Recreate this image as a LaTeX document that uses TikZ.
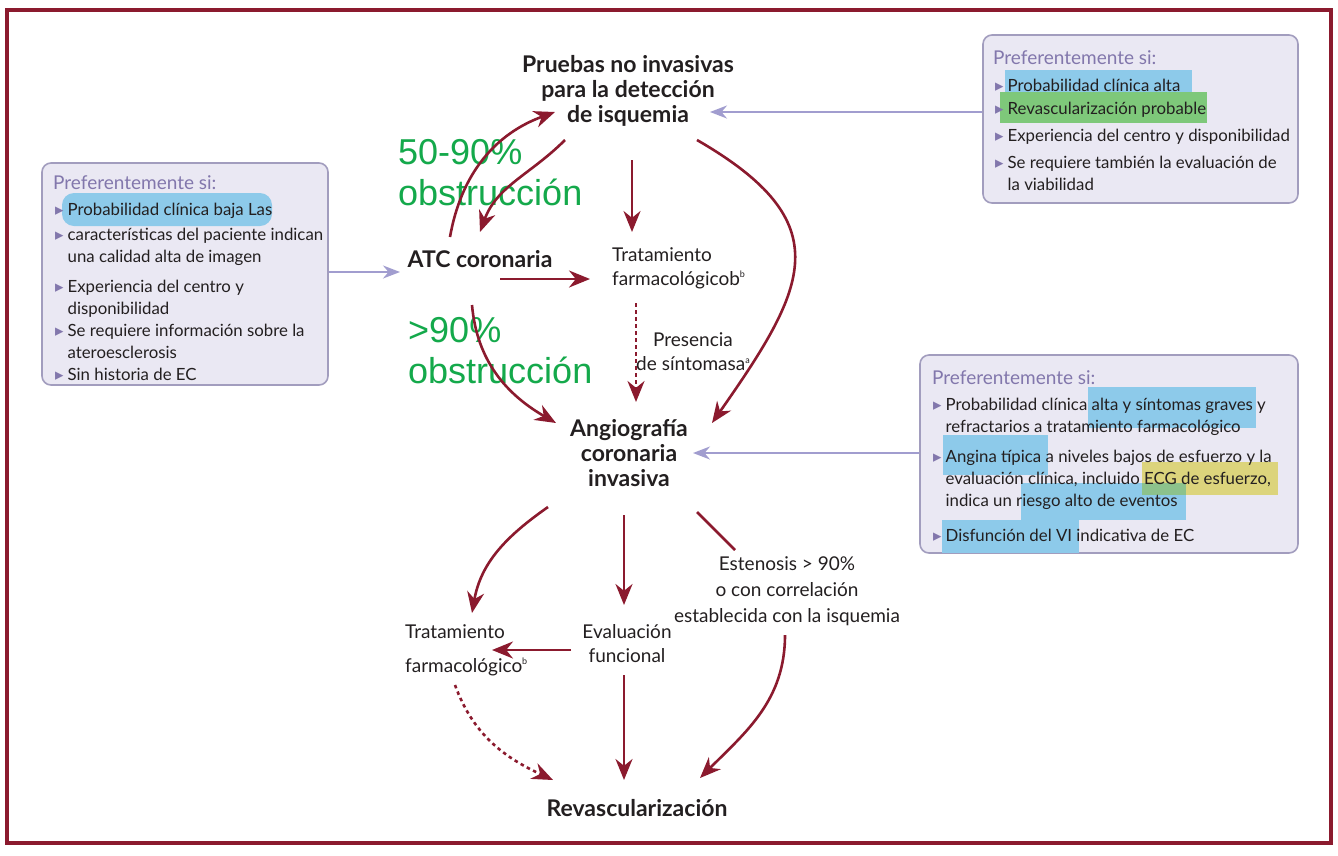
\documentclass[tikz,border=0pt]{standalone}
\usepackage{fontspec}
\setmainfont{Lato}
\newfontfamily\symfont{DejaVu Sans}
\newfontfamily\notefont{Liberation Sans}
\usepackage{xcolor}
\usetikzlibrary{arrows.meta}
\definecolor{wine}{HTML}{8B1A2E}
\definecolor{ink}{HTML}{231F20}
\definecolor{lilac}{HTML}{8277AC}
\definecolor{lilacarrow}{HTML}{A19DCF}
\definecolor{boxfill}{HTML}{EAE8F3}
\definecolor{boxline}{HTML}{A29DBE}
\definecolor{hlblue}{HTML}{8DCAEA}
\definecolor{hlgreen}{HTML}{7EC87A}
\definecolor{hlyellow}{HTML}{DCD47C}
\definecolor{hlmix}{HTML}{8CC28C}
\definecolor{notegreen}{HTML}{14A94B}
\newcommand{\bul}{{\color{lilac}\symfont ▸}\hspace{4pt}}
\newcommand{\supmark}[1]{\raisebox{.8ex}{\fontsize{9}{9}\selectfont #1}}
\tikzset{
  >={Stealth[length=21pt,width=17pt]},
  flow/.style={->,line width=2.6pt,draw=wine},
  flow dashed/.style={flow,dash pattern=on 3.5pt off 3.5pt},
  hint/.style={-{Stealth[length=17pt,width=13pt]},line width=2pt,draw=lilacarrow},
  note box/.style={rectangle,rounded corners=9pt,fill=boxfill,draw=boxline,line width=1.6pt},
  box title/.style={font=\fontsize{19}{22}\selectfont,text=lilac,anchor=west,inner sep=0pt},
  box item/.style={font=\fontsize{16.8}{22}\selectfont,text=ink,align=left,anchor=west,inner sep=0pt},
  main bold/.style={font=\bfseries\fontsize{23}{25}\selectfont,text=ink,align=center,inner sep=2pt},
  main label/.style={font=\fontsize{19}{24}\selectfont,text=ink,align=center,inner sep=2pt},
  green note/.style={font=\notefont\fontsize{36}{41}\selectfont,text=notegreen,align=left,anchor=west,inner sep=0pt}
}

\begin{document}
\begin{tikzpicture}[x=1pt,y=-1pt]
  \useasboundingbox (0,0) rectangle (1338,855);
  \fill[white] (0,0) rectangle (1338,855);
  \draw[wine,line width=3.5pt] (7,10) rectangle (1331,843);

  % side boxes
  \node[note box,minimum width=286pt,minimum height=222pt] (boxL) at (185,274) {};
  \node[note box,minimum width=315pt,minimum height=168pt] (boxT) at (1140.5,119) {};
  \node[note box,minimum width=378pt,minimum height=198pt] (boxR) at (1109,454) {};

  % highlights
  \fill[hlblue,rounded corners=12pt] (62,193) rectangle (272,226);
  \fill[hlblue] (1005,70) rectangle (1192,95);
  \fill[hlgreen] (1000,92) rectangle (1207,123);
  \fill[hlblue] (1088,387) rectangle (1256,428);
  \fill[hlblue] (943,435) rectangle (1048,475);
  \fill[hlyellow] (1142,462) rectangle (1278,495);
  \fill[hlblue] (1021,483) rectangle (1186,520);
  \fill[hlmix] (1142,483) rectangle (1186,495);
  \fill[hlblue] (942,520) rectangle (1079,553);

  % left box
  \node[box title] (ltitle) at (53,183) {Preferentemente si:};
  \node[box item] (l1) at (55,211) {\bul Probabilidad clínica baja Las};
  \node[box item] (l2) at (55,247) {\bul características del paciente indican\\\phantom{\bul}una calidad alta de imagen};
  \node[box item] (l3) at (55,299) {\bul Experiencia del centro y\\\phantom{\bul}disponibilidad};
  \node[box item] (l4) at (55,341) {\bul Se requiere información sobre la\\\phantom{\bul}ateroesclerosis};
  \node[box item] (l5) at (55,374) {\bul Sin historia de EC};

  % top right box
  \node[box title] (ttitle) at (993,58) {Preferentemente si:};
  \node[box item] (t1) at (995,85) {\bul Probabilidad clínica alta};
  \node[box item] (t2) at (995,110) {\bul Revascularización probable};
  \node[box item] (t3) at (995,137) {\bul Experiencia del centro y disponibilidad};
  \node[box item] (t4) at (995,173) {\bul Se requiere también la evaluación de\\\phantom{\bul}la viabilidad};

  % right box
  \node[box title] (rtitle) at (932,378) {Preferentemente si:};
  \node[box item] (r1) at (933,416.5) {\bul Probabilidad clínica alta y síntomas graves y\\\phantom{\bul}refractarios a tratamiento farmacológico};
  \node[box item] (r2) at (933,480) {\bul Angina típica a niveles bajos de esfuerzo y la\\\phantom{\bul}evaluación clínica, incluido ECG de esfuerzo,\\\phantom{\bul}indica un riesgo alto de eventos};
  \node[box item] (r3) at (933,535) {\bul Disfunción del VI indicativa de EC};

  % main nodes
  \node[main bold] (tests) at (628,91) {Pruebas no invasivas\\para la detección\\de isquemia};
  \node[main bold] (atc) at (480,259) {ATC coronaria};
  \node[main label,align=left,anchor=west] (drugA) at (610,268) {Tratamiento\\farmacológicob\supmark{b}};
  \node[main label] (sympt) at (693,352) {Presencia\\de síntomasa\supmark{a}};
  \node[main bold] (angio) at (629,453) {Angiografía\\coronaria\\invasiva};
  \node[main label,align=left,anchor=west,font=\fontsize{19}{34}\selectfont] (drugB) at (403,650) {Tratamiento\\farmacológico\supmark{b}};
  \node[main label] (funct) at (627,644) {Evaluación\\funcional};
  \node[main label,font=\fontsize{19}{26}\selectfont] (steno) at (787,591) {Estenosis > 90\%\\o con correlación\\establecida con la isquemia};
  \node[main bold] (revasc) at (637,808) {Revascularización};

  % green notes
  \node[green note] (noteA) at (398,172.5) {50-90\%\\obstrucción};
  \node[green note] (noteB) at (408,351) {>90\%\\obstrucción};

  % arrows
  \draw[flow] ([shift={(-30,-22)}]atc.center) to[out=80,in=200] ([shift={(-73,21)}]tests.center);
  \draw[flow] ([shift={(-63,49)}]tests.center) to[out=225,in=70] ([shift={(0,-27)}]atc.center);
  \draw[flow] ([shift={(4,69)}]tests.center) -- ([shift={(22,-36)}]drugA.west);
  \draw[flow] ([shift={(20,20)}]atc.center) -- ([shift={(-20,11)}]drugA.west);
  \draw[flow dashed] ([shift={(26,35)}]drugA.west) -- ([shift={(7,-51)}]angio.center);
  \draw[flow] ([shift={(69,49)}]tests.center) to[out=-30,in=55,looseness=1.5] ([shift={(83,-30)}]angio.center);
  \draw[flow] ([shift={(-8,46)}]atc.center) to[out=-85,in=150] ([shift={(-73,-30)}]angio.center);
  \draw[flow] ([shift={(-81,54)}]angio.center) to[out=215,in=80] ([shift={(69,-37)}]drugB.west);
  \draw[flow] ([shift={(-5,62)}]angio.center) -- ([shift={(-3,-39)}]funct.center);
  \draw[wine,line width=2.6pt] ([shift={(68,59)}]angio.center) -- ([shift={(-52,-41)}]steno.center);
  \draw[flow] ([shift={(-2,44)}]steno.center) to[out=-90,in=45] ([shift={(63,-30)}]revasc.center);
  \draw[flow] ([shift={(-56,6)}]funct.center) -- ([shift={(89,0)}]drugB.west);
  \draw[flow] ([shift={(-3,31)}]funct.center) -- ([shift={(-13,-28)}]revasc.center);
  \draw[flow dashed] ([shift={(52,35)}]drugB.west) to[out=-70,in=155] ([shift={(-84,-28)}]revasc.center);

  \draw[hint] (boxL.east |- 0,272) -- ([shift={(-80,13)}]atc.center);
  \draw[hint] (boxT.west |- 0,112) -- ([shift={(82,21)}]tests.center);
  \draw[hint] (boxR.west |- 0,453) -- ([shift={(64,0)}]angio.center);
\end{tikzpicture}
\end{document}
